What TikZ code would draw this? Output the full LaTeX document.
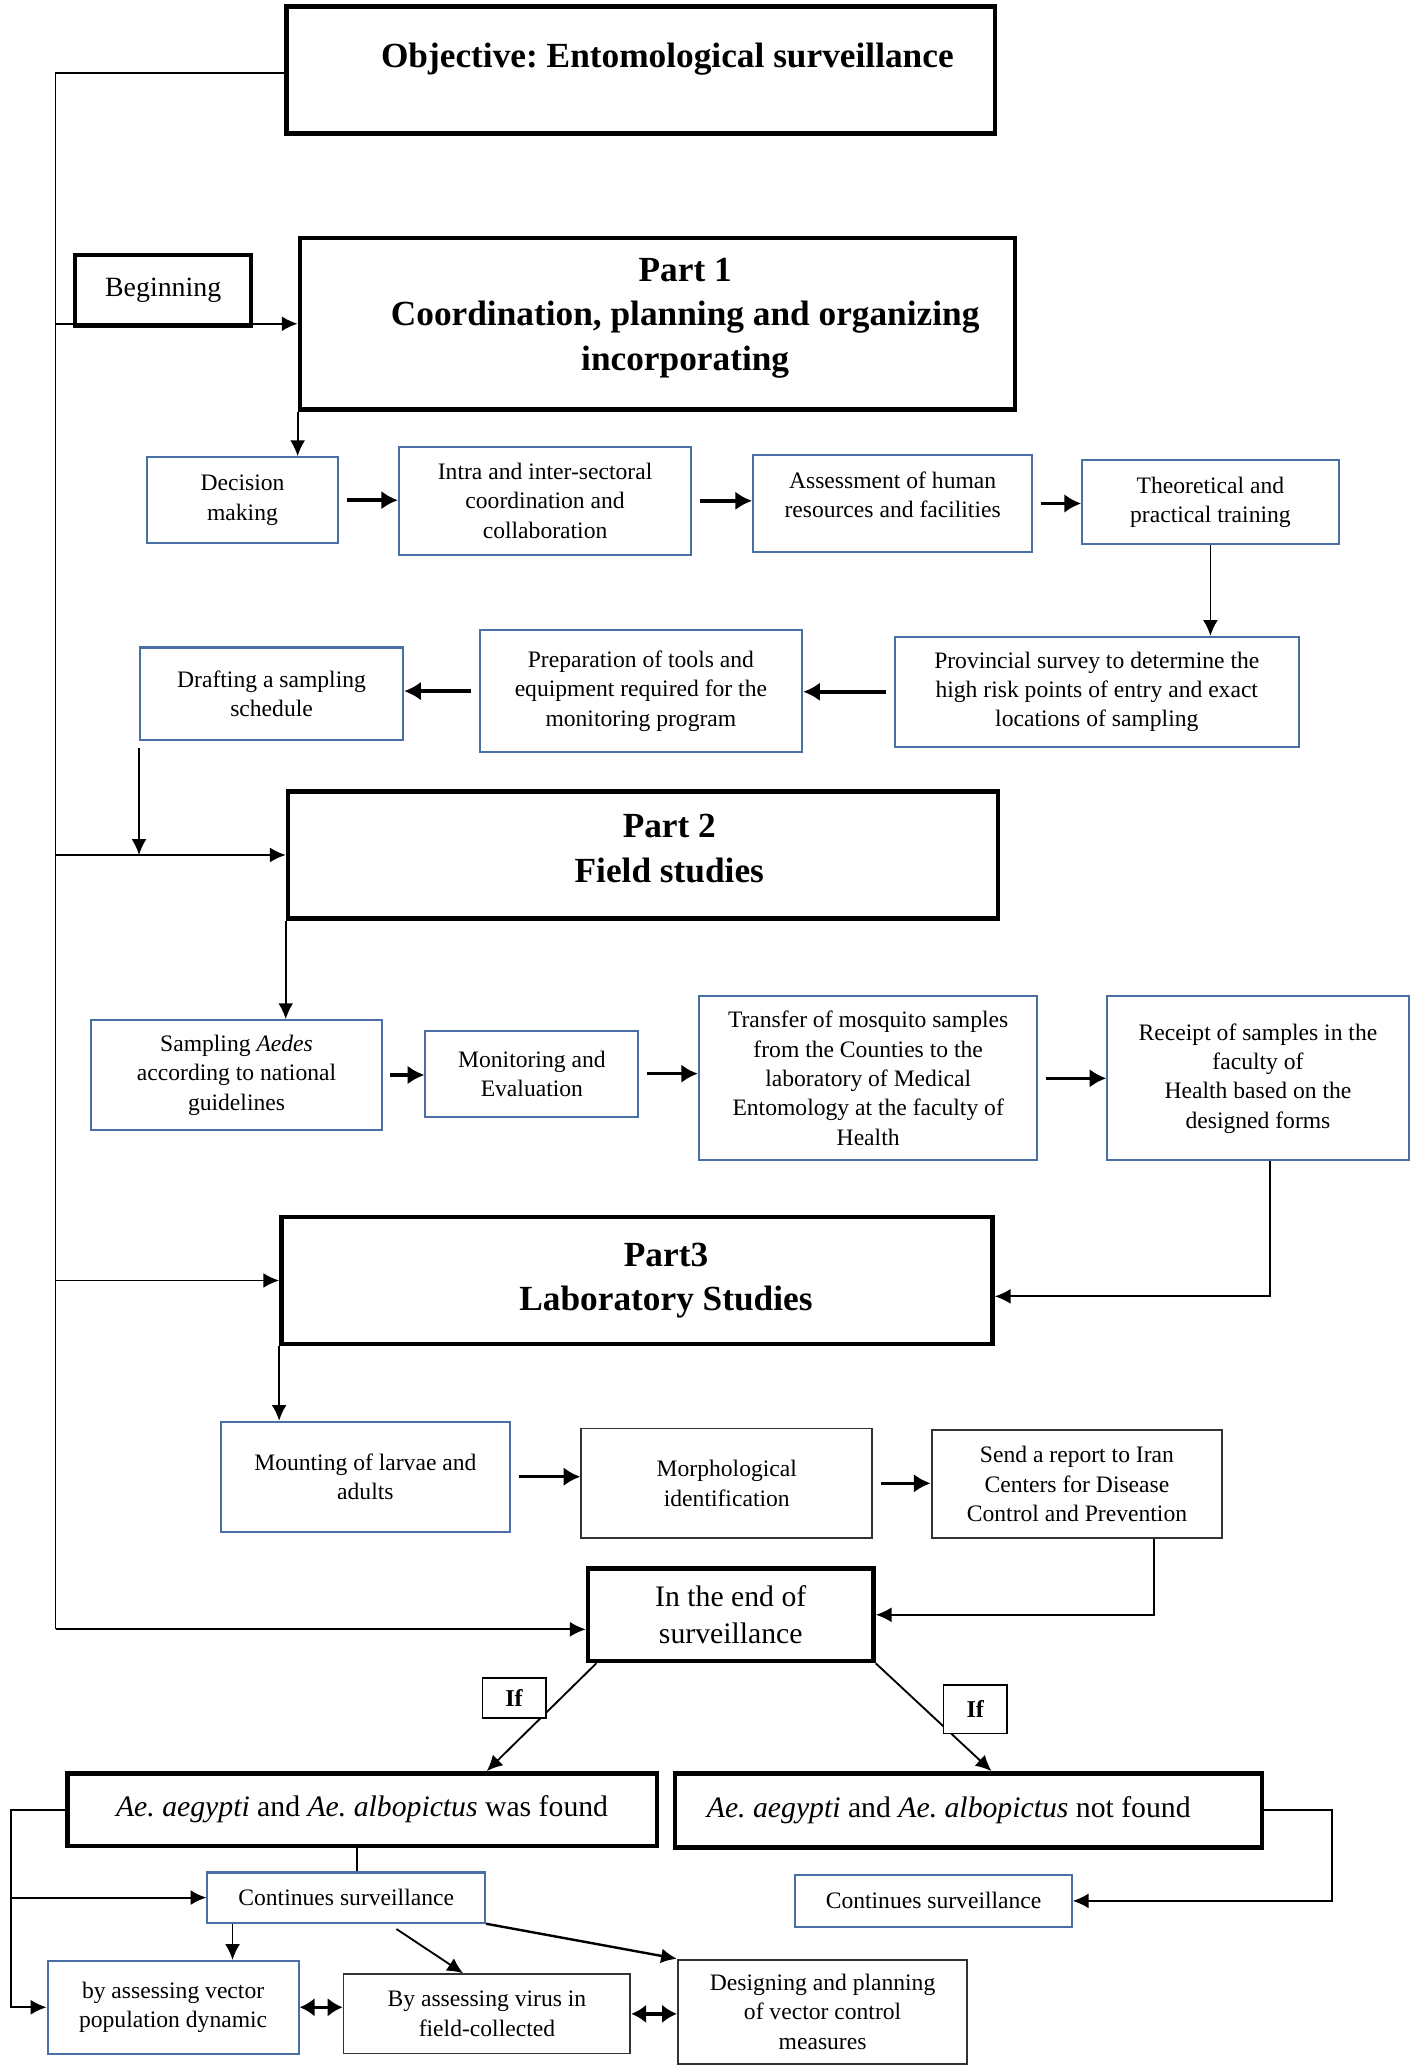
\documentclass[tikz,border=0pt]{standalone}
\usepackage{fontspec}
\setmainfont{Liberation Serif}
\frenchspacing
\usetikzlibrary{arrows.meta, positioning, calc}
\definecolor{boxblue}{HTML}{4A6FA5}
\tikzset{
	headbox/.style={draw, line width=2.4pt, inner sep=0pt},
	headtxt/.style={font=\fontsize{19}{24}\selectfont\bfseries, align=center},
	bluebox/.style={draw=boxblue, line width=1.1pt, align=center, inner sep=2pt, font=\fontsize{12.7}{15.8}\selectfont},
	greybox/.style={draw=black!80, line width=1pt, align=center, inner sep=2pt, font=\fontsize{12.7}{15.8}\selectfont},
	thickbox/.style={draw, line width=2.4pt, align=center, inner sep=2pt, font=\fontsize{16}{20}\selectfont},
	beginbox/.style={draw, line width=2.2pt, inner sep=2pt, font=\fontsize{15}{18}\selectfont},
	ifbox/.style={draw, fill=white, line width=0.8pt, inner sep=1pt, font=\fontsize{13}{15}\selectfont\bfseries},
	plainline/.style={line width=1pt},
	linkarr/.style={-{Latex[length=8.5pt,width=8pt]}, line width=1pt},
	steparr/.style={-{Latex[length=9pt,width=10pt]}, line width=1.9pt, shorten <=4pt},
	botharr/.style={{Latex[length=8pt,width=10pt]}-{Latex[length=8pt,width=10pt]}, line width=1.9pt},
}

\begin{document}
\begin{tikzpicture}[x=0.025cm, y=-0.025cm]
	\useasboundingbox (0,0) rectangle (1070,1568);

	% objective and part 1
	\node[headbox, minimum width=13.4cm, minimum height=2.4cm, label={[headtxt, xshift=0.5cm, yshift=0.2cm]center:{Objective: Entomological surveillance}}] (obj) at (485,53) {};
	\node[beginbox, minimum width=3.325cm, minimum height=1.35cm] (begin) at (123.5,220) {Beginning};
	\node[headbox, minimum width=13.525cm, minimum height=3.25cm, label={[headtxt, xshift=0.525cm, yshift=0.11cm]center:{Part 1\\Coordination, planning and organizing\\incorporating}}] (part1) at (497.5,245) {};

	\node[bluebox, minimum width=3.625cm, minimum height=1.625cm] (decide) at (183.5,378.5) {Decision\\making};
	\node[bluebox, minimum width=5.525cm, minimum height=2.05cm] (coord) at (412.5,379) {Intra and inter-sectoral\\coordination and\\collaboration};
	\node[bluebox, minimum width=5.275cm, minimum height=1.85cm] (assess) at (675.5,381) {Assessment of human\\resources and facilities\\[-6pt]};
	\node[bluebox, minimum width=4.85cm, minimum height=1.6cm] (train) at (916,380) {Theoretical and\\practical training};
	\node[bluebox, minimum width=7.65cm, minimum height=2.075cm] (survey) at (830,523.5) {Provincial survey to determine the\\high risk points of entry and exact\\locations of sampling};
	\node[bluebox, minimum width=6.1cm, minimum height=2.3cm] (tools) at (485,523) {Preparation of tools and\\equipment required for the\\monitoring program};
	\node[bluebox, minimum width=4.975cm, minimum height=1.75cm] (draft) at (205.5,525) {Drafting a sampling\\schedule};

	% part 2
	\node[headbox, minimum width=13.425cm, minimum height=2.4cm, label={[headtxt, xshift=0.5cm, yshift=0.125cm]center:{Part 2\\Field studies}}] (part2) at (486.5,647) {};
	\node[bluebox, minimum width=5.5cm, minimum height=2.075cm] (sample) at (179,813.5) {Sampling \textit{Aedes}\\according to national\\guidelines};
	\node[bluebox, minimum width=4.025cm, minimum height=1.625cm] (monitor) at (402.5,812.5) {Monitoring and\\Evaluation};
	\node[bluebox, minimum width=6.4cm, minimum height=3.1cm] (transfer) at (657,816) {Transfer of mosquito samples\\from the Counties to the\\laboratory of Medical\\Entomology at the faculty of\\Health};
	\node[bluebox, minimum width=5.7cm, minimum height=3.1cm] (receipt) at (952,816) {Receipt of samples in the\\faculty of\\Health based on the\\designed forms};

	% part 3
	\node[headbox, minimum width=13.45cm, minimum height=2.4cm, label={[headtxt, xshift=0.55cm]center:{Part3\\Laboratory Studies}}] (part3) at (482,969) {};
	\node[bluebox, minimum width=5.475cm, minimum height=2.075cm] (mount) at (276.5,1117.5) {Mounting of larvae and\\adults};
	\node[greybox, minimum width=5.5cm, minimum height=2.075cm] (morph) at (550,1122.5) {Morphological\\identification};
	\node[greybox, minimum width=5.5cm, minimum height=2.05cm] (report) at (815,1123) {Send a report to Iran\\Centers for Disease\\Control and Prevention};

	% end of surveillance
	\node[thickbox, minimum width=5.4cm, minimum height=1.75cm] (finish) at (553,1222) {In the end of\\surveillance};
	\node[thickbox, minimum width=11.15cm, minimum height=1.375cm] (found) at (274,1369.5) {\textit{Ae. aegypti} and \textit{Ae. albopictus} was found};
	\node[thickbox, minimum width=11.1cm, minimum height=1.4cm] (absent) at (733,1370) {\textit{Ae. aegypti} and \textit{Ae. albopictus} not found\hspace*{0.75cm}};
	\node[bluebox, minimum width=5.25cm, minimum height=0.95cm] (contA) at (262,1436) {Continues surveillance};
	\node[bluebox, minimum width=5.225cm, minimum height=0.975cm] (contB) at (706.5,1438.5) {Continues surveillance};
	\node[bluebox, minimum width=4.75cm, minimum height=1.75cm] (vecpop) at (131,1519) {by assessing vector\\population dynamic};
	\node[greybox, minimum width=5.425cm, minimum height=1.5cm] (virus) at (368.5,1524) {By assessing virus in\\field-collected};
	\node[greybox, minimum width=5.475cm, minimum height=1.975cm] (control) at (622.5,1522.5) {Designing and planning\\of vector control\\measures};

	% left trunk
	\coordinate (trunktop) at (42,55);
	\coordinate (trunkbot) at (42,1233);
	\draw[plainline] (obj.west |- trunktop) -- (trunktop) -- (trunkbot);
	\draw[linkarr] (trunktop |- part1.west) -- (part1.west);
	\draw[linkarr] (trunktop |- part2.west) -- (part2.west);
	\draw[linkarr] (trunktop |- part3.west) -- (part3.west);
	\draw[linkarr] (trunkbot) -- (trunkbot -| finish.west);

	% part 1 chain
	\draw[linkarr] (part1.south west) -- (part1.south west |- decide.north);
	\draw[steparr] (decide.east) -- (decide.east -| coord.west);
	\draw[steparr] (coord.east) -- (coord.east -| assess.west);
	\draw[steparr] (assess.east) -- (assess.east -| train.west);
	\draw[linkarr] (train.south) -- (train.south |- survey.north);
	\draw[steparr] (survey.west) -- (survey.west -| tools.east);
	\draw[steparr] (tools.west) -- (tools.west -| draft.east);
	\draw[linkarr, shorten <=4pt] (draft.south west) -- (draft.south west |- part2.west);

	% part 2 chain
	\draw[linkarr] (part2.south west) -- (part2.south west |- sample.north);
	\draw[steparr] (sample.east) -- (sample.east -| monitor.west);
	\draw[steparr] (monitor.east) -- (monitor.east -| transfer.west);
	\draw[steparr] (transfer.east) -- (transfer.east -| receipt.west);
	\draw[linkarr] ([xshift=0.225cm]receipt.south) |- ([yshift=-0.3cm]part3.east);

	% part 3 chain
	\draw[linkarr] (part3.south west) -- (part3.south west |- mount.north);
	\draw[steparr] (mount.east) -- (mount.east -| morph.west);
	\draw[steparr] (morph.east) -- (morph.east -| report.west);
	\draw[linkarr] ([xshift=1.45cm]report.south) |- (finish.east);

	% outcomes
	\draw[linkarr] ([xshift=0.2cm]finish.south west) -- ([xshift=7.975cm]found.north west);
	\draw[linkarr] (finish.south east) -- ([xshift=6.025cm]absent.north west);
	\coordinate (leftloop) at (8,1373);
	\draw[linkarr] (found.west) -- (found.west -| leftloop) |- (vecpop.west);
	\draw[linkarr] (leftloop |- contA.west) -- (contA.west);
	\draw[plainline] ([xshift=0.2cm]contA.north |- found.south) -- ([xshift=0.2cm]contA.north);
	\coordinate (rightloop) at (1008,1373);
	\draw[linkarr] (absent.east) -- (absent.east -| rightloop) |- (contB.east);
	\draw[linkarr] ([xshift=-2.15cm]contA.south) -- ([xshift=-2.15cm]contA.south |- vecpop.north);
	\draw[linkarr] ([xshift=0.95cm,yshift=-0.1cm]contA.south) -- ([xshift=-0.45cm]virus.north);
	\draw[linkarr, line width=1.3pt] (contA.south east) -- (control.north west);
	\draw[botharr] (vecpop.east) -- (vecpop.east -| virus.west);
	\draw[botharr] (virus.east) -- (virus.east -| control.west);

	\node[ifbox, minimum width=1.2cm, minimum height=0.75cm] (ifA) at (389,1285) {If};
	\node[ifbox, minimum width=1.2cm, minimum height=0.925cm] (ifB) at (738,1293.5) {If};
\end{tikzpicture}
\end{document}
